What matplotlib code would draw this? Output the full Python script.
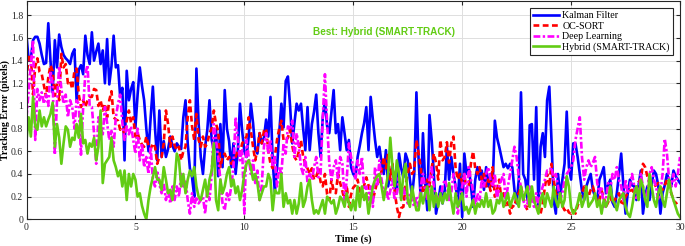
import numpy as np
import matplotlib
matplotlib.use("Agg")
from matplotlib import pyplot as plt
from matplotlib.ticker import FormatStrFormatter, MultipleLocator

# tracking error sampled every 0.1 s from 0 to 30 s (one row = one second)
kalman = [
    1.62, 1.40, 1.42, 1.58, 1.61, 1.61, 1.55, 1.45, 1.37, 1.38,
    1.73, 1.40, 1.12, 1.58, 1.34, 1.63, 1.52, 1.45, 1.42, 1.40,
    1.37, 1.46, 1.50, 1.05, 1.32, 1.36, 1.28, 1.62, 1.45, 1.37,
    1.65, 1.40, 1.48, 1.55, 1.37, 1.49, 1.20, 1.59, 1.19, 1.35,
    1.62, 1.34, 1.36, 1.08, 1.16, 0.52, 1.31, 1.05, 1.15, 1.21,
    0.81, 1.10, 1.34, 1.18, 1.05, 0.80, 0.60, 0.90, 1.17, 0.80,
    0.52, 0.96, 0.55, 0.69, 0.55, 0.62, 0.73, 0.65, 0.60, 0.67,
    0.64, 0.62, 0.90, 1.05, 0.67, 0.45, 0.37, 0.20, 1.33, 0.85,
    0.55, 0.40, 0.64, 0.79, 1.05, 0.70, 0.61, 0.79, 0.38, 0.84,
    0.46, 1.14, 0.80, 0.69, 0.46, 0.67, 0.40, 0.60, 1.02, 0.78,
    0.60, 0.55, 0.73, 1.02, 0.85, 0.62, 0.58, 0.76, 0.67, 0.72,
    0.88, 0.73, 1.08, 0.52, 0.24, 0.45, 0.76, 1.02, 0.81, 1.22,
    1.26, 1.00, 0.67, 0.85, 1.02, 0.96, 1.02, 0.80, 0.61, 0.99,
    0.61, 0.84, 0.95, 1.10, 0.76, 0.55, 0.90, 1.05, 0.82, 0.76,
    0.95, 1.14, 0.76, 0.84, 0.61, 0.90, 0.76, 0.61, 0.70, 0.46,
    0.40, 0.37, 0.55, 0.65, 0.76, 0.85, 0.99, 0.61, 1.08, 0.88,
    0.70, 0.55, 0.64, 0.50, 0.40, 0.61, 0.29, 0.40, 0.46, 0.30,
    0.23, 0.58, 0.45, 0.37, 0.58, 0.52, 0.35, 0.20, 0.40, 1.12,
    0.52, 0.17, 0.76, 0.32, 0.08, 0.92, 0.70, 0.40, 0.05, 0.15,
    0.29, 0.14, 0.26, 0.64, 0.35, 0.55, 0.40, 0.29, 0.17, 0.49,
    0.02, 0.58, 0.40, 0.46, 0.30, 0.11, 0.35, 0.46, 0.35, 0.43,
    0.26, 0.46, 0.29, 0.40, 0.29, 0.87, 0.72, 0.64, 0.55, 0.46,
    0.49, 0.45, 0.49, 0.46, 0.26, 0.14, 0.35, 1.12, 0.40, 0.35,
    0.17, 0.83, 0.84, 0.35, 0.99, 0.11, 0.64, 0.76, 0.55, 1.05,
    1.17, 0.70, 0.17, 0.05, 0.40, 0.20, 0.35, 0.49, 0.95, 0.46,
    0.35, 0.67, 0.67, 0.55, 0.40, 0.25, 0.17, 0.29, 0.35, 0.40,
    0.26, 0.20, 0.17, 0.35, 0.40, 0.46, 0.23, 0.30, 0.35, 0.15,
    0.11, 0.23, 0.40, 0.58, 0.30, 0.05, 0.23, 0.35, 0.30, 0.29,
    0.17, 0.30, 0.43, 0.05, 0.20, 0.29, 0.17, 0.30, 0.43, 0.40,
    0.30, 0.05, 0.23, 0.30, 0.40, 0.35, 0.29, 0.43, 0.38, 0.35,
    0.32,
]

ocsort = [
    1.23, 1.45, 1.44, 1.10, 1.35, 1.42, 1.30, 1.28, 1.18, 1.08,
    1.25, 1.36, 1.31, 1.09, 1.20, 1.05, 1.46, 1.34, 1.37, 1.20,
    1.22, 1.15, 1.31, 1.33, 1.10, 0.99, 1.05, 0.99, 1.05, 1.08,
    1.08, 1.15, 1.14, 1.00, 1.05, 0.96, 1.02, 0.90, 1.05, 1.13,
    0.90, 0.88, 0.87, 0.79, 0.81, 0.75, 0.87, 0.96, 0.85, 0.90,
    0.73, 0.76, 0.70, 0.66, 0.64, 0.73, 0.65, 0.62, 0.67, 0.64,
    0.49, 0.55, 0.55, 0.67, 0.96, 0.84, 0.64, 0.73, 0.65, 0.61,
    0.64, 0.52, 0.60, 0.64, 0.90, 1.05, 0.82, 0.70, 0.93, 0.70,
    0.64, 0.73, 0.64, 0.67, 0.76, 0.80, 0.96, 0.84, 0.78, 0.46,
    0.55, 0.58, 0.52, 0.55, 0.49, 0.52, 0.55, 0.61, 0.58, 0.67,
    0.70, 0.73, 0.90, 0.78, 0.64, 0.52, 0.62, 0.76, 0.67, 0.78,
    0.80, 0.60, 0.49, 0.45, 0.55, 0.70, 0.80, 0.87, 0.70, 0.69,
    0.72, 0.79, 0.65, 0.55, 0.52, 0.60, 0.70, 0.55, 0.49, 0.45,
    0.40, 0.45, 0.35, 0.37, 0.45, 0.33, 0.29, 0.40, 0.22, 0.17,
    0.35, 0.25, 0.23, 0.40, 0.32, 0.25, 0.17, 0.30, 0.11, 0.22,
    0.28, 0.30, 0.35, 0.25, 0.20, 0.30, 0.37, 0.30, 0.22, 0.17,
    0.25, 0.33, 0.33, 0.43, 0.55, 0.45, 0.58, 0.35, 0.49, 0.25,
    0.11, 0.02, 0.10, 0.11, 0.30, 0.40, 0.49, 0.40, 0.43, 0.70,
    0.58, 0.46, 0.23, 0.29, 0.35, 0.29, 0.45, 0.58, 0.50, 0.35,
    0.70, 0.52, 0.55, 0.68, 0.50, 0.67, 0.73, 0.45, 0.35, 0.40,
    0.32, 0.40, 0.25, 0.30, 0.49, 0.60, 0.45, 0.40, 0.46, 0.35,
    0.40, 0.29, 0.35, 0.25, 0.46, 0.20, 0.26, 0.35, 0.17, 0.23,
    0.11, 0.15, 0.05, 0.12, 0.11, 0.20, 0.23, 0.29, 0.20, 0.12,
    0.08, 0.15, 0.23, 0.20, 0.17, 0.10, 0.05, 0.14, 0.29, 0.40,
    0.29, 0.49, 0.35, 0.23, 0.20, 0.17, 0.12, 0.08, 0.10, 0.06,
    0.05, 0.08, 0.05, 0.12, 0.17, 0.23, 0.29, 0.25, 0.20, 0.26,
    0.29, 0.22, 0.15, 0.17, 0.25, 0.20, 0.11, 0.15, 0.20, 0.14,
    0.17, 0.20, 0.23, 0.15, 0.14, 0.20, 0.23, 0.25, 0.26, 0.23,
    0.29, 0.33, 0.35, 0.49, 0.46, 0.38, 0.32, 0.30, 0.29, 0.30,
    0.32, 0.28, 0.26, 0.30, 0.35, 0.28, 0.23, 0.17, 0.14, 0.15,
    0.17,
]

deep_learning = [
    0.90, 1.14, 1.37, 1.58, 0.70, 1.15, 1.05, 1.12, 1.02, 1.10,
    1.00, 1.31, 1.20, 0.57, 1.05, 1.35, 1.15, 1.02, 1.10, 0.90,
    1.05, 0.99, 0.80, 1.05, 1.02, 0.57, 0.99, 1.28, 1.36, 1.00,
    0.99, 0.76, 0.49, 0.90, 0.82, 0.75, 0.99, 0.85, 0.70, 0.78,
    0.64, 0.90, 1.02, 1.10, 0.85, 0.70, 0.82, 0.75, 0.82, 0.70,
    0.58, 0.80, 0.52, 0.67, 0.46, 0.55, 0.40, 0.64, 0.35, 0.29,
    0.43, 0.31, 0.23, 0.32, 0.17, 0.26, 0.14, 0.29, 0.17, 0.29,
    0.20, 0.40, 0.29, 0.35, 0.17, 0.05, 0.23, 0.11, 0.20, 0.14,
    0.17, 0.20, 0.05, 0.26, 0.17, 0.40, 0.84, 0.70, 0.55, 0.35,
    0.14, 0.08, 0.23, 0.17, 0.29, 0.46, 0.90, 0.70, 0.52, 0.61,
    0.05, 0.70, 0.55, 0.40, 0.52, 0.32, 0.43, 0.17, 0.30, 0.64,
    0.76, 0.58, 0.70, 0.46, 0.55, 0.29, 0.46, 0.40, 0.67, 0.58,
    0.82, 0.79, 0.87, 0.55, 0.76, 0.64, 0.46, 0.40, 0.55, 0.32,
    0.40, 0.35, 0.46, 0.55, 0.37, 0.40, 0.90, 1.28, 0.85, 0.49,
    0.35, 0.46, 0.52, 0.35, 0.55, 0.49, 0.17, 0.35, 0.67, 0.55,
    0.46, 0.35, 0.52, 0.40, 0.55, 0.26, 0.29, 0.17, 0.29, 0.11,
    0.46, 0.29, 0.52, 0.35, 0.23, 0.29, 0.17, 0.25, 0.35, 0.17,
    0.23, 0.37, 0.17, 0.29, 0.20, 0.14, 0.23, 0.17, 0.11, 0.20,
    0.11, 0.29, 0.40, 0.26, 0.17, 0.35, 0.46, 0.29, 0.14, 0.20,
    0.17, 0.29, 0.35, 0.29, 0.17, 0.23, 0.40, 0.29, 0.05, 0.17,
    0.29, 0.40, 0.20, 0.46, 0.35, 0.25, 0.11, 0.23, 0.17, 0.35,
    0.29, 0.40, 0.46, 0.35, 0.29, 0.40, 0.17, 0.29, 0.35, 0.40,
    0.17, 0.29, 0.40, 0.52, 0.64, 0.55, 0.37, 0.29, 0.17, 0.11,
    0.14, 0.29, 0.17, 0.11, 0.23, 0.11, 0.23, 0.29, 0.35, 0.43,
    0.43, 0.46, 0.35, 0.40, 0.29, 0.17, 0.23, 0.35, 0.40, 0.43,
    0.46, 0.52, 0.70, 0.80, 0.90, 0.55, 0.35, 0.46, 0.52, 0.46,
    0.50, 0.55, 0.32, 0.23, 0.29, 0.11, 0.17, 0.32, 0.26, 0.40,
    0.35, 0.46, 0.35, 0.29, 0.17, 0.35, 0.23, 0.29, 0.40, 0.29,
    0.17, 0.23, 0.40, 0.29, 0.17, 0.23, 0.40, 0.46, 0.35, 0.29,
    0.17, 0.23, 0.40, 0.71, 0.58, 0.35, 0.29, 0.40, 0.29, 0.40,
    0.55,
]

hybrid = [
    0.70, 0.90, 0.73, 1.08, 0.82, 0.79, 0.96, 0.82, 0.90, 0.82,
    0.88, 0.93, 1.03, 0.64, 0.84, 0.72, 0.49, 0.67, 0.82, 0.79,
    0.64, 0.72, 0.70, 0.84, 0.72, 0.93, 0.67, 0.70, 0.58, 0.67,
    0.64, 0.72, 0.52, 0.64, 0.96, 0.32, 0.49, 0.52, 0.55, 0.72,
    0.52, 0.46, 0.38, 0.43, 0.29, 0.43, 0.17, 0.40, 0.29, 0.40,
    0.35, 0.20, 0.23, 0.12, 0.05, 0.00, 0.17, 0.29, 0.37, 0.46,
    0.35, 0.35, 0.26, 0.46, 0.35, 0.23, 0.26, 0.17, 0.32, 0.58,
    0.52, 0.29, 0.40, 0.23, 0.35, 0.43, 0.38, 0.46, 0.29, 0.20,
    0.17, 0.26, 0.35, 0.20, 0.35, 0.43, 0.67, 0.17, 0.08, 0.35,
    0.23, 0.29, 0.40, 0.46, 0.29, 0.35, 0.23, 0.29, 0.17, 0.26,
    0.40, 0.49, 0.52, 0.46, 0.35, 0.40, 0.32, 0.17, 0.23, 0.29,
    0.29, 0.40, 0.35, 0.08, 0.26, 0.23, 0.23, 0.40, 0.11, 0.23,
    0.14, 0.17, 0.05, 0.17, 0.05, 0.14, 0.32, 0.11, 0.17, 0.29,
    0.35, 0.17, 0.05, 0.08, 0.05, 0.11, 0.17, 0.05, 0.20, 0.17,
    0.14, 0.17, 0.05, 0.11, 0.20, 0.17, 0.11, 0.23, 0.14, 0.08,
    0.17, 0.08, 0.29, 0.11, 0.29, 0.17, 0.23, 0.05, 0.17, 0.29,
    0.35, 0.38, 0.40, 0.29, 0.17, 0.29, 0.40, 0.72, 0.46, 0.29,
    0.52, 0.40, 0.17, 0.40, 0.49, 0.17, 0.11, 0.29, 0.17, 0.08,
    0.08, 0.23, 0.14, 0.23, 0.29, 0.08, 0.29, 0.11, 0.23, 0.11,
    0.23, 0.14, 0.23, 0.17, 0.32, 0.17, 0.05, 0.23, 0.11, 0.17,
    0.23, 0.08, 0.11, 0.05, 0.11, 0.17, 0.05, 0.14, 0.11, 0.17,
    0.11, 0.23, 0.11, 0.17, 0.05, 0.08, 0.17, 0.14, 0.23, 0.11,
    0.17, 0.23, 0.11, 0.17, 0.23, 0.17, 0.11, 0.29, 0.17, 0.23,
    0.29, 0.11, 0.29, 0.17, 0.11, 0.05, 0.17, 0.23, 0.11, 0.23,
    0.17, 0.11, 0.29, 0.17, 0.11, 0.23, 0.11, 0.17, 0.38, 0.29,
    0.11, 0.05, 0.08, 0.14, 0.23, 0.11, 0.17, 0.29, 0.11, 0.14,
    0.17, 0.23, 0.11, 0.17, 0.05, 0.17, 0.11, 0.17, 0.29, 0.17,
    0.14, 0.08, 0.17, 0.20, 0.23, 0.11, 0.05, 0.02, 0.11, 0.23,
    0.29, 0.17, 0.35, 0.29, 0.17, 0.11, 0.40, 0.29, 0.17, 0.11,
    0.23, 0.29, 0.17, 0.11, 0.23, 0.35, 0.23, 0.17, 0.11, 0.05,
    0.02,
]

labels = ["Kalman Filter", "OC-SORT", "Deep Learning", "Hybrid (SMART-TRACK)"]
series = [kalman, ocsort, deep_learning, hybrid]
colors = ["#0000ff", "#ff0000", "#ff00ff", "#62cc14"]
styles = ["-", (0, (2.2, 1.3)), (0, (2.6, 0.9, 0.9, 0.9)), "-"]

plt.rcParams["font.family"] = ["Liberation Serif", "DejaVu Serif"]

fig = plt.figure(figsize=(6.85, 2.46), dpi=100)
ax = fig.add_axes([0.0387, 0.1085, 0.954, 0.887])

for vals, lab, col, ls in zip(series, labels, colors, styles):
    t = np.linspace(0, 30, len(vals))
    ax.plot(t, vals, color=col, linestyle=ls, linewidth=1.9, label=lab)

ax.set_xlim(0, 30)
ax.set_ylim(0, 1.925)
ax.xaxis.set_major_locator(MultipleLocator(5))
ax.yaxis.set_major_locator(MultipleLocator(0.2))
ax.yaxis.set_major_formatter(FormatStrFormatter("%g"))
ax.grid(True, color="#dedede", linewidth=0.7)
ax.set_axisbelow(True)
ax.tick_params(direction="in", length=3, width=0.8, top=True, right=True,
               labelsize=7, colors="#262626", pad=2.5)
for sp in ax.spines.values():
    sp.set_color("#262626")
    sp.set_linewidth(0.8)

ax.set_xlabel("Time (s)", fontsize=7.5, fontweight="bold", labelpad=2)
ax.set_ylabel("Tracking Error (pixels)", fontsize=7.2, fontweight="bold")
ax.yaxis.set_label_coords(-0.0245, 0.5)

ax.text(16.4, 1.65, "Best: Hybrid (SMART-TRACK)", color=colors[3], fontsize=7.2,
        fontweight="bold", family=["Liberation Sans", "DejaVu Sans"],
        ha="center", va="center")

leg = ax.legend(loc="upper right", bbox_to_anchor=(1 - 7 / 653.5, 1 - 7 / 218.3),
                borderaxespad=0, fontsize=7.2, fancybox=False, framealpha=1,
                edgecolor="#262626", handlelength=2.6, handletextpad=0.3,
                labelspacing=0.15, borderpad=0.3)
leg.get_frame().set_linewidth(0.8)

fig.savefig("out.png", dpi=100)
